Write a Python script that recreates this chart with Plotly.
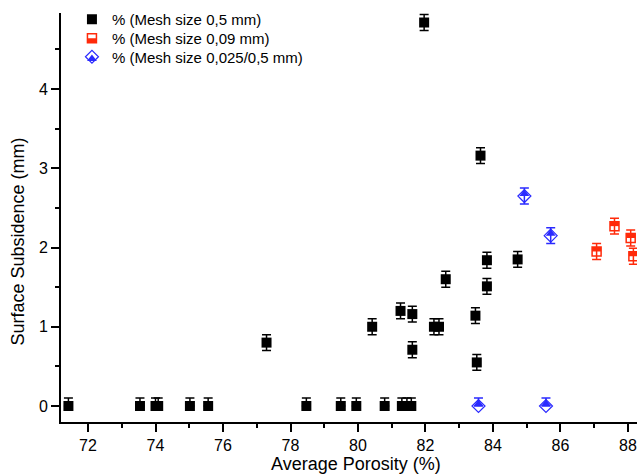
import plotly.graph_objects as go

# Mesh size 0,5 mm
x_05 = [71.42, 73.54, 74.0, 74.08, 75.02, 75.56, 77.29, 78.47, 79.49, 79.95,
        80.42, 80.79, 81.26, 81.3, 81.45, 81.58, 81.61, 81.61, 81.96, 82.25,
        82.4, 82.6, 83.48, 83.52, 83.63, 83.82, 83.82, 84.73]
y_05 = [0, 0, 0, 0, 0, 0, 0.8, 0, 0, 0,
        1.0, 0, 1.2, 0, 0, 0, 1.16, 0.71, 4.84, 1.0,
        1.0, 1.6, 1.14, 0.55, 3.16, 1.84, 1.51, 1.85]

# Mesh size 0,09 mm
x_009 = [87.07, 87.6, 88.08, 88.16]
y_009 = [1.95, 2.27, 2.12, 1.89]

# Mesh size 0,025/0,5 mm
x_0025 = [83.57, 84.93, 85.57, 85.71]
y_0025 = [0, 2.65, 0, 2.15]

err = 0.1
names = ["% (Mesh size 0,5 mm)", "% (Mesh size 0,09 mm)", "% (Mesh size 0,025/0,5 mm)"]

BLACK = "#000000"
RED = "#ff2a0a"
BLUE = "#2a2aff"
FONT = "Liberation Sans, Arial, sans-serif"
LEG_SIZE = 15


def err_bars(ys, color):
    # subsidence can't go below zero, so zero readings only get the upper bar
    return dict(type="data", symmetric=False,
                array=[err] * len(ys),
                arrayminus=[0 if v == 0 else err for v in ys],
                color=color, thickness=1.5, width=4.5)


def legend_row(top_px, text_color="black"):
    # one legend box per row so the rows sit closer than the default spacing
    return dict(visible=True, x=0.019, y=(422 - top_px) / 409,
                xanchor="left", yanchor="top",
                bgcolor="rgba(0,0,0,0)", borderwidth=0, itemsizing="trace",
                font=dict(size=LEG_SIZE, family=FONT, color=text_color))


fig = go.Figure()

fig.add_trace(go.Scatter(
    x=x_05, y=y_05, mode="markers", name=names[0], legend="legend",
    marker=dict(symbol="square", size=10, color=BLACK, line=dict(width=0)),
    error_y=err_bars(y_05, BLACK)))

fig.add_trace(go.Scatter(
    x=x_009, y=y_009, mode="markers", name=names[1], legend="legend2",
    marker=dict(symbol="square-open", size=9, color=RED, line=dict(width=1.5, color=RED)),
    error_y=err_bars(y_009, RED)))

fig.add_trace(go.Scatter(
    x=x_0025, y=y_0025, mode="markers", name=names[2], legend="legend3",
    marker=dict(symbol="diamond-open", size=10, color=BLUE, line=dict(width=1.2, color=BLUE)),
    error_y=err_bars(y_0025, BLUE)))

# filled upper halves of the open markers (their legend boxes overlay rows 2 and 3)
fig.add_trace(go.Scatter(
    x=x_009, y=y_009, mode="markers", name=names[1], legend="legend4",
    marker=dict(symbol="line-ew", size=6.4, angle=180, standoff=2.25,
                color=RED, line=dict(width=4.5, color=RED)),
    hoverinfo="skip"))

fig.add_trace(go.Scatter(
    x=x_0025, y=y_0025, mode="markers", name=names[2], legend="legend5",
    marker=dict(symbol="triangle-down", size=8.6, angle=180, standoff=2.15,
                color=BLUE, line=dict(width=0)),
    hoverinfo="skip"))

fig.update_layout(
    width=637, height=475,
    showlegend=True,
    margin=dict(l=61, r=0, t=13, b=53),
    paper_bgcolor="white", plot_bgcolor="white",
    font=dict(family=FONT, color="black"),
    legend=legend_row(3),
    legend2=legend_row(22),
    legend3=legend_row(40.5),
    legend4=legend_row(22, "rgba(0,0,0,0)"),
    legend5=legend_row(40.5, "rgba(0,0,0,0)"),
    xaxis=dict(range=[71.2, 88.267], showgrid=False, zeroline=False,
               showline=True, linewidth=2, linecolor="black",
               ticks="outside", ticklen=8, tickwidth=2, tickcolor="black",
               tick0=72, dtick=2, tickfont=dict(size=16, family=FONT),
               minor=dict(ticks="outside", ticklen=4, tickwidth=2,
                          tickcolor="black", dtick=1, tick0=71)),
    yaxis=dict(range=[-0.202, 4.96], showgrid=False, zeroline=False,
               showline=True, linewidth=2, linecolor="black",
               ticks="outside", ticklen=8, tickwidth=2, tickcolor="black",
               tick0=0, dtick=1, tickfont=dict(size=16, family=FONT),
               minor=dict(ticks="outside", ticklen=4, tickwidth=2,
                          tickcolor="black", dtick=0.5, tick0=0)),
    annotations=[
        dict(text="Average Porosity (%)", xref="paper", yref="paper",
             x=(356 - 61) / 576, y=(422 - 464) / 409, xanchor="center", yanchor="middle",
             showarrow=False, font=dict(size=18, family=FONT)),
        dict(text="Surface Subsidence (mm)", xref="paper", yref="paper",
             x=(17 - 61) / 576, y=(422 - 241.5) / 409, xanchor="center", yanchor="middle",
             textangle=-90, showarrow=False, font=dict(size=18, family=FONT)),
    ],
)

fig.write_html("out.html")
